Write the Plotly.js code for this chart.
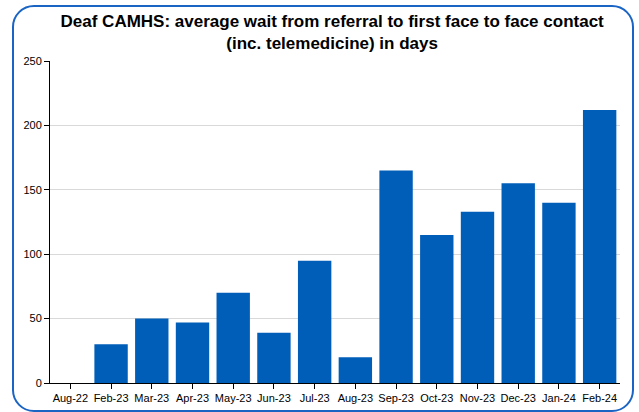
<!DOCTYPE html>
<html><head><meta charset="utf-8">
<script src="https://cdn.plot.ly/plotly-3.0.1.min.js"></script>
<style>
html,body{margin:0;padding:0;background:#fff;}
#wrap{position:relative;width:639px;height:412px;overflow:hidden;}
#chart{position:absolute;left:0;top:0;width:639px;height:412px;}
#frame{position:absolute;left:12px;top:5px;width:618px;height:403px;border:2px solid #1a64c4;border-radius:22px;pointer-events:none;}
</style></head>
<body><div id="wrap"><div id="chart"></div><div id="frame"></div></div>
<script>
const months = ["Aug-22","Feb-23","Mar-23","Apr-23","May-23","Jun-23","Jul-23","Aug-23","Sep-23","Oct-23","Nov-23","Dec-23","Jan-24","Feb-24"];
const waitDays = [0,30,50,47,70,39,95,20,165,115,133,155,140,212];
const tickVals = [0,50,100,150,200,250];

Plotly.newPlot('chart',[{
  type:'bar', x:months, y:waitDays,
  marker:{color:'#005EB8'}, hoverinfo:'x+y'
}],{
  width:639, height:412,
  margin:{l:50,r:19,t:61,b:29},
  paper_bgcolor:'rgba(0,0,0,0)', plot_bgcolor:'#fff',
  font:{family:'Liberation Sans, Arial, sans-serif', size:11, color:'#000'},
  title:{text:'<b>Deaf CAMHS: average wait from referral to first face to face contact<br>(inc. telemedicine) in days</b>',
    font:{size:17,color:'#000'}, x:0.495, xref:'paper', xanchor:'center', y:0.935, yref:'container', yanchor:'top'},
  bargap:0.18,
  xaxis:{type:'category', showline:true, linecolor:'#000', linewidth:1, ticks:'outside', ticklen:5, tickcolor:'#000', showgrid:false, tickangle:0},
  yaxis:{range:[0,250], tickvals:tickVals, showline:true, linecolor:'#000', linewidth:1, ticks:'outside', ticklen:5, tickcolor:'#000', showgrid:true, gridcolor:'#d9d9d9', zeroline:false},
  showlegend:false
},{displayModeBar:false});
</script></body></html>
